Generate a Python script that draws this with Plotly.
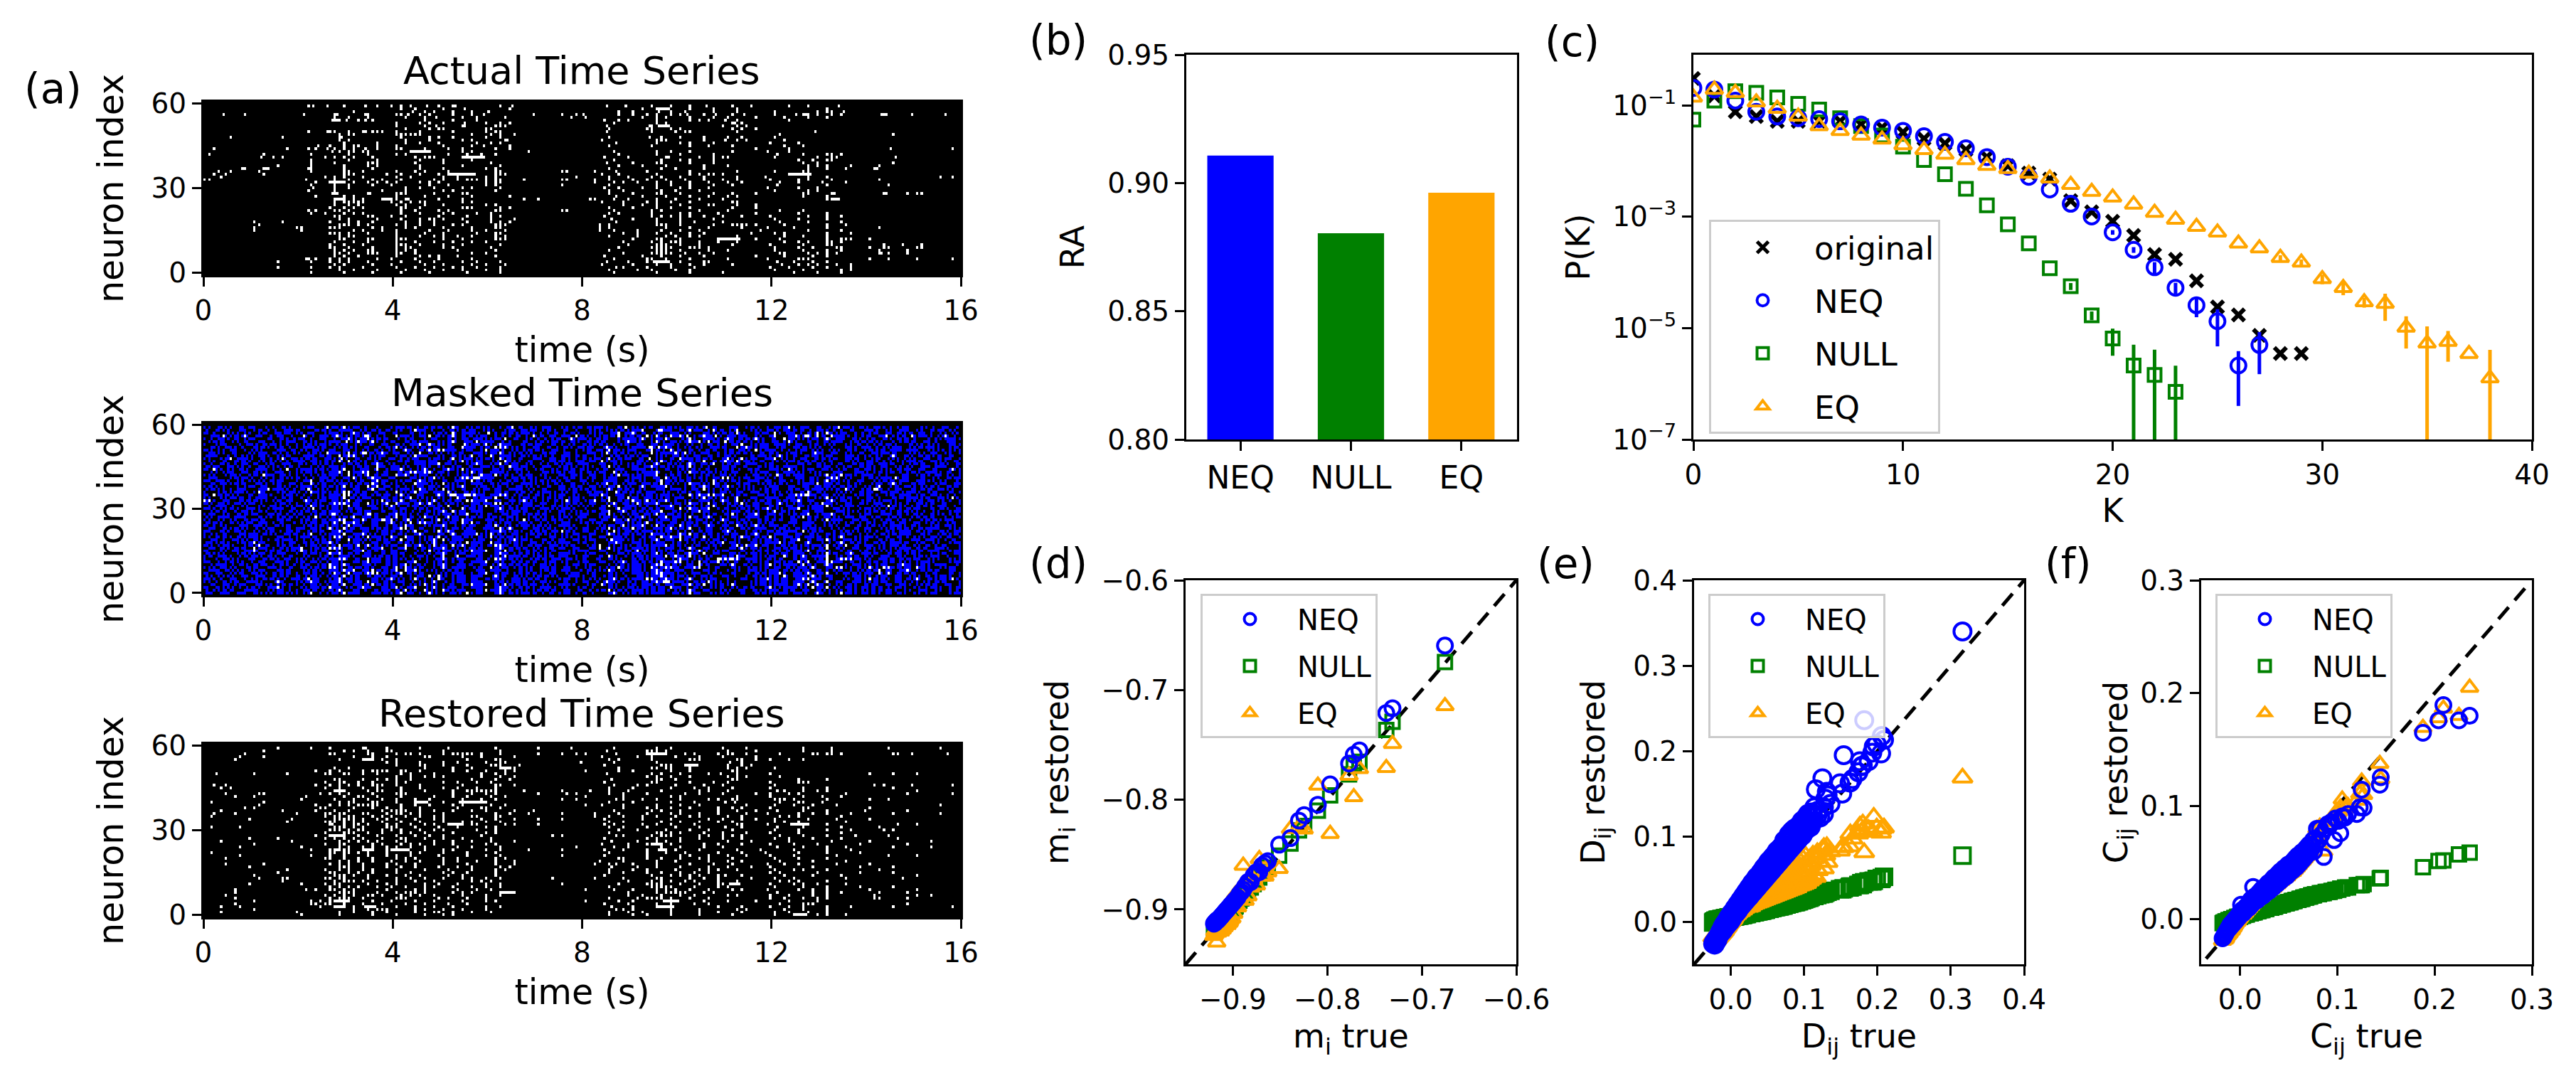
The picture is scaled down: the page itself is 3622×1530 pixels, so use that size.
import plotly.graph_objects as go

W, H = 3622, 1530
BLUE, GREEN, ORANGE = "#0000ff", "#008000", "#ffa500"
FONT = "DejaVu Sans"

# raster panels, 320 bins of 0.05 s, rows listed from neuron 59 down to neuron 0
N_BINS = 320
BIN_S = 0.05
actual_spikes = [
    [44,46,52,59,68,73,79,83,87,94,99,105,106,125,130,170,178,189,197,205,212,223,231,247,255,268],
    [83,89,101,110,129,185,191,192,193,194,195,196,205,215,225,263],
    [63,88,93,97,105,113,120,175,181,192,197,203,215,225,241,259,263,265,270],
    [8,17,42,55,56,68,69,81,83,86,91,95,105,113,118,139,151,157,160,175,181,187,191,197,201,204,211,216,223,228,241,250,253,254,255,259,265,269,286,287,288,299,313],
    [55,61,69,85,93,98,109,115,127,155,161,185,191,195,205,215,221,233,245,255,263],
    [54,55,56,57,60,65,68,71,93,105,115,169,175,179,191,205,209,213,220,225,247],
    [81,91,95,101,110,119,125,129,173,191,195,223,224,227],
    [81,93,98,109,110,123,125,127,170,188,189,192,193,194,195,196,219,225,229],
    [85,95,99,101,119,121,171,187,189,197,201,223,227,233],
    [44,52,53,55,61,67,68,71,73,75,81,91,105,119,123,125,170,189,199,203,205,225,258],
    [85,57,61,63,81,83,85,87,89,91,113,121,125,131,243,291],
    [11,33,57,58,83,95,99,105,119,125,171,188,193,201,211,221,227,241],
    [57,61,85,95,109,113,127,128,168,191,193,195,211,220,225,229,245],
    [59,73,85,91,99,115,121,125,174,191,201,205,215,239,251],
    [48,53,59,63,65,73,81,101,113,118,129,171,189,205,213,223,245,253],
    [4,35,44,47,52,55,59,63,68,73,81,83,93,103,109,123,129,233,247,290,316],
    [54,57,61,63,67,69,87,88,89,90,91,92,93,94,95,109,113,137,173,191,197,205,223,238,247],
    [2,25,45,61,69,81,85,103,111,117,123,175,191,201,215,242,253,263,265,269],
    [24,29,33,51,55,59,63,71,89,93,95,97,109,110,111,112,113,114,115,116,117,118,169,179,195,196,209,215,219,221,241,259,265,267,292],
    [45,61,73,91,101,113,173,193,201,205,215,251,257,263,265],
    [45,55,69,71,73,89,101,121,170,181,191,193,205,215,253,259,291],
    [31,45,59,69,73,91,109,125,175,185,195,211,221,255,259,263,273,285],
    [16,17,25,26,27,44,45,59,71,91,101,119,123,171,193,199,211,255,263,271,283,284],
    [6,11,23,45,59,61,67,81,89,93,103,123,125,151,153,165,174,187,205,225,241,253,255],
    [4,9,25,59,61,63,77,83,91,99,103,104,105,106,107,108,109,110,111,112,113,114,123,125,127,168,175,191,205,209,213,215,219,247,248,249,250,251,252,253,254,255,256],
    [7,51,55,59,67,81,87,101,107,119,123,157,171,179,189,193,201,211,225,237,255,263,311,316],
    [0,2,43,55,61,71,75,83,97,101,107,111,113,115,119,123,125,135,151,153,165,171,181,187,195,203,211,219,225,239,251,255,265,285],
    [47,53,54,55,56,57,58,59,63,69,73,77,81,91,95,99,119,123,125,165,173,177,183,191,197,205,213,221,227,243,251,261,271],
    [45,55,61,71,79,95,103,119,123,151,171,191,197,205,215,223,242,263,289],
    [46,55,61,85,91,97,109,113,125,169,175,185,191,201,205,213,238,251,259],
    [44,55,75,85,101,105,123,171,177,193,199,209,241,255,259],
    [54,55,56,69,70,81,83,85,97,109,111,171,181,191,193,201,215,223,233,253,255,265,266,287,288,297,301,303],
    [47,59,63,81,93,103,113,129,174,185,195,205,213,221,225,253,263],
    [55,56,57,58,59,63,67,75,76,77,78,79,81,85,86,99,109,135,141,163,165,173,179,191,199,209,219,263,265,266,267,268],
    [55,59,61,63,65,67,79,83,87,91,93,109,113,168,177,187,191,197,205,223,225],
    [55,61,65,81,85,93,101,119,123,177,185,191,201,213,215,225,233],
    [53,59,63,67,83,85,91,109,111,113,125,129,171,181,191,197,205,223,233],
    [44,47,55,57,61,83,89,99,103,123,125,151,153,173,189,193,209,221,243,253],
    [45,51,59,63,67,83,91,101,105,115,121,171,175,189,201,205,217,233,251,263],
    [55,57,69,71,79,85,99,111,121,125,169,189,193,197,201,205,211,219,227,239,255,263,269],
    [57,61,73,83,91,95,97,101,109,121,131,172,181,191,201,215,241,251,263],
    [21,33,53,61,65,71,85,91,97,111,121,125,129,174,191,201,207,219,243,255,269],
    [23,57,59,61,65,69,81,85,91,97,105,109,123,125,127,167,171,191,193,195,201,215,223,225,227,229,233,245,263,271],
    [21,39,41,53,55,57,71,75,85,89,101,113,123,125,167,171,195,205,213,227,238,249,263,285],
    [21,41,63,67,75,81,95,103,113,119,127,167,173,183,193,201,209,235,255,269],
    [53,55,57,61,69,81,93,101,115,123,125,177,183,191,197,205,211,231,241,245,263,273],
    [57,61,63,81,91,97,101,107,113,123,127,171,183,195,199,205,209,225,245,253,263],
    [57,59,69,71,81,83,85,101,109,123,125,127,181,191,193,201,217,218,219,220,221,222,223,224,225,226,233,243,263,269,271,273,281],
    [55,63,69,81,89,97,105,113,119,177,189,193,197,199,201,209,217,225,245,251,255,263,265,269],
    [53,59,67,81,83,85,91,101,109,125,179,191,193,195,201,209,223,239,253,263,265,287,295,303],
    [53,55,61,71,81,85,87,101,105,121,175,189,191,193,195,197,205,207,209,213,241,251,257,267,269,281,287,289,301,303],
    [55,59,63,69,71,81,85,89,107,123,171,191,193,195,201,213,221,241,253,263,269,285,297],
    [55,57,61,69,71,73,81,83,89,113,119,177,189,191,193,195,197,203,209,215,243,245,255,259,263,267,285,286,289,297],
    [55,59,65,81,91,95,99,107,123,169,185,193,201,211,233,245,257,263],
    [43,44,47,53,57,61,73,79,89,99,113,173,187,189,195,205,221,238,251,253,255,281,289,301,316],
    [31,45,53,57,61,69,83,91,97,109,115,125,170,179,187,190,191,192,193,194,195,196,201,211,213,242,249,257,263],
    [55,59,71,79,93,101,113,119,127,168,181,191,197,205,211,223,244,251,255,259,267,273],
    [31,45,53,57,67,81,89,97,105,109,115,125,174,177,187,197,207,239,247,257,263,273],
    [57,63,73,85,93,101,109,119,125,171,183,189,199,205,241,253,269,273],
    [45,59,71,83,95,111,125,173,191,205,219,249,259,269],
]

restored_spikes = [
    [31,45,53,67,68,77,91,103,123,141,155,173,191,197,219,229,253,265,289,311],
    [25,59,63,69,77,79,101,125,170,187,189,191,195,221,233,253,265],
    [17,53,55,69,71,81,85,87,91,101,105,107,109,111,113,117,125,141,151,157,161,174,187,188,189,190,191,192,193,194,195,203,207,217,221,223,229,243,257,259,263,265,269,291,293,299,314],
    [15,25,63,71,77,93,95,109,117,131,168,183,189,199,209,219,233],
    [13,57,67,68,69,70,71,75,81,111,123,125,171,175,189,205,207,209,225,227,233,239,247,253],
    [77,81,91,101,107,119,125,127,159,173,191,222,227],
    [81,91,93,101,111,121,123,125,133,169,193,195,197,203,204,205,206,207,208,221,227,231],
    [55,61,93,105,113,125,126,127,128,129,131,175,189,191,195,197,205,221,225,229,241],
    [47,53,57,67,71,73,75,77,83,85,91,105,111,119,127,131,161,175,181,197,205,223,225],
    [5,21,35,51,53,59,61,67,73,83,87,97,117,123,127,170,189,193,201,213,218,225,239,281,291,301],
    [81,87,93,97,101,117,125,131,187,191,197,205,221,225,229,243],
    [55,57,67,73,77,81,87,113,123,129,172,191,193,199,223,225,251,263],
    [51,57,59,65,71,81,85,101,107,115,121,169,189,191,205,215,221,239,251,253,255],
    [4,9,47,53,57,61,65,71,73,75,81,91,109,123,125,131,173,183,187,199,211,219,241,283,287,299,316],
    [7,11,51,57,67,73,83,91,101,107,115,123,171,181,197,207,213,223,239,253,263,291],
    [55,56,57,58,59,69,73,75,83,93,105,111,113,115,117,119,121,123,135,151,163,171,179,193,209,213,221,242,245,253,259,263,301],
    [9,23,25,49,53,57,61,71,81,83,85,105,113,119,123,141,153,157,171,177,187,203,209,219,233,239,247,251,271,297,316],
    [13,21,43,59,65,67,73,83,97,105,111,121,127,161,177,197,201,225,239,253,261,269],
    [41,55,63,69,75,81,89,95,109,117,123,151,157,174,177,185,191,201,213,217,223,225,241,243,245,249,263,281,289],
    [3,25,57,61,63,71,73,81,89,90,91,92,93,94,101,108,109,110,111,112,113,114,115,116,117,118,119,171,181,197,207,220,224,243,251,253,261],
    [23,47,53,57,61,65,67,69,71,73,83,89,95,105,109,121,127,161,168,177,191,201,209,229,241,249,257,267,311],
    [17,21,49,51,63,71,77,83,91,107,117,119,125,177,187,191,197,205,217,223,227,239,253,255,281],
    [7,33,47,55,61,75,79,81,83,85,91,97,105,113,119,131,139,173,189,193,201,217,225,233,242,253,263,279,297],
    [4,13,39,51,53,57,59,67,69,77,81,83,87,91,101,123,129,137,151,165,175,187,197,201,209,217,229,238,251,257,263,273,291,311],
    [3,51,55,57,61,63,71,75,79,85,91,97,101,113,115,123,125,165,171,177,185,191,199,205,209,221,227,243,247,251,269],
    [19,37,55,57,59,61,63,67,73,77,81,89,97,101,117,123,131,141,151,169,185,197,213,219,227,233,241,255,267,281],
    [35,51,53,55,59,63,67,75,83,91,101,109,113,119,125,171,177,193,201,209,217,223,241,245,251,271],
    [53,54,59,63,65,69,77,81,87,93,97,103,104,105,106,107,108,109,113,115,127,131,141,169,173,185,191,197,207,225,227,238,248,249,250,251,252,253,254,255,263,293,301],
    [3,15,55,57,59,63,67,77,79,81,89,99,107,119,123,171,177,187,199,209,220,227,242,253,269,285],
    [53,55,57,61,65,67,75,79,83,91,97,101,115,123,175,183,195,205,213,223,241,251,263,273,287,291],
    [51,59,61,63,69,75,83,87,93,105,119,123,171,191,193,197,201,211,219,229,239,251,269],
    [47,53,54,55,56,57,58,59,65,73,81,89,95,101,117,147,151,174,177,189,193,195,197,209,213,219,223,227,243,253,263,275,289],
    [19,31,51,55,59,63,67,75,83,85,93,101,109,121,169,187,191,201,209,219,227,241,247,257,269,293],
    [7,37,57,61,65,69,73,81,85,97,105,113,121,131,172,183,191,195,201,221,231,247,265,281,307],
    [21,51,57,59,71,75,83,87,91,97,105,119,123,168,179,187,189,190,191,192,193,197,211,217,227,239,249,259,277,297],
    [15,41,57,61,67,71,77,81,87,93,107,113,125,157,173,179,193,201,211,219,242,253,263,271,291,307],
    [45,53,55,56,57,59,61,67,68,69,70,71,77,79,80,81,82,83,84,85,86,93,101,105,119,125,137,151,169,177,187,192,193,194,195,199,209,225,235,249,263,273],
    [3,53,55,59,61,65,69,77,87,91,101,111,123,171,187,195,203,217,227,237,251,263,277],
    [15,45,53,59,69,77,81,87,99,111,119,125,151,169,187,201,205,213,221,229,239,249,267,289,301],
    [9,51,53,59,65,71,81,85,89,101,107,123,127,175,177,187,193,201,209,213,223,241,251,263],
    [57,61,65,71,79,85,91,101,107,115,123,131,167,177,191,199,213,221,227,243,257,271],
    [9,25,53,57,61,67,77,81,89,101,111,123,131,165,171,174,181,191,205,215,223,238,245,251,267,281],
    [19,57,59,61,67,77,83,89,99,107,113,125,129,172,183,191,201,213,221,231,239,257,277,291],
    [35,51,57,61,67,71,81,93,103,113,123,127,171,181,187,199,209,213,217,225,241,249,253,263,285],
    [31,53,55,61,65,71,81,87,101,105,111,123,171,177,187,193,201,207,213,239,243,259,277,291],
    [21,55,57,59,63,69,77,85,91,103,109,123,169,189,197,201,205,209,217,220,227,245,257,269,301],
    [23,33,35,51,53,57,59,69,81,87,93,101,109,113,119,125,147,165,177,191,193,205,211,217,231,241,249,271,295],
    [33,55,59,61,63,67,73,81,89,97,113,117,121,179,189,193,197,203,207,217,225,243,247,251,263],
    [19,41,51,55,57,69,77,81,93,99,107,119,125,151,175,187,189,191,193,201,209,217,219,222,223,224,225,226,239,249,253,259,271],
    [53,57,61,65,73,79,85,93,97,105,113,119,125,171,189,191,193,195,197,207,217,221,241,253,263,277,291],
    [13,43,47,53,55,59,63,77,89,93,107,115,121,161,173,181,191,195,199,205,213,223,227,238,251,257,263,281,301],
    [13,57,59,61,63,73,81,85,87,89,93,105,109,113,125,126,127,128,129,130,131,179,191,195,197,199,201,203,211,215,242,257,263,269,285,297],
    [9,51,55,59,63,69,71,75,83,87,91,97,109,119,125,179,185,193,201,207,221,225,239,247,257,263,283,301,307],
    [13,53,57,59,61,67,81,83,85,99,103,111,119,171,183,187,189,191,193,197,205,213,239,245,253,259,263,283,285,297],
    [21,45,49,53,55,56,57,58,59,60,61,71,79,89,97,109,119,123,161,175,181,194,195,196,197,198,199,200,211,221,233,247,259],
    [13,45,47,51,53,59,67,75,85,93,103,111,169,179,191,197,207,213,243,253,255,257,297],
    [7,15,49,55,56,57,58,59,63,68,69,70,71,72,81,89,97,105,119,125,172,181,191,192,193,194,195,196,197,198,217,227,239,247,253,263,273,291,316],
    [21,63,69,73,75,77,89,93,101,109,119,174,177,181,197,209,225,229,245,253,263],
    [7,39,57,63,71,77,89,97,99,105,113,121,171,179,185,197,209,217,227,241,247,255,263],
    [41,57,71,81,93,101,105,171,181,187,197,209,223,241,249,250,251,252,253,254,259,263,271],
]

# hidden cells of the masked panel, one hex digit for four bins, neuron 59 first
mask_hex = [
    "a3519c24682e13a5c8417b26d9315a84c629e14b37a1852c6d4e9183c5a2764f18b3a69d25c148e2",
    "46a1c5923d81b47e29a6513c84d6e2a173b968c4152ad7813c69e4b28153a76c9d2461e8a3c51b94",
    "c82a5163b94e17a2d638c1945a27e8136bd24c9a158e3a62c7941d5b286e13c9a4d71258e6b3914a",
    "1e56a389c4127b6ad2481e9c35a6d7124c8b39e1a56c2d8493a16e27bc5181d4a63e92c7158bd2a4",
    "93a65c18d2e4713ab96c2584e1a73d5c18a4962bd3617ea5c8291f4b36a8c1d5729e34b1a6c8257d",
    "2d8a61c49e3517c2ba4986de15a3c7e2418b5d9a36c12e84a75b91c36d28e4a1937c5b6a12d8e43c",
    "85c13a6e912d74b8a31c69e2d5817a4bc36e1928d5a4b1c73e8a2649c15e7d38b2a14c96e8352a1d",
    "1a7486d2c93eb15a8c2694ad71c3e582a91c64d3b85a17e26c94a3d81b5e2c76a841d3c95e2b7a16",
    "d29c4a81e653a71c94d28b1a63e5c47a296d1c84b3a75e19a2c64d8b3a17c92e54a8d16b3e7c2a95",
    "3a8c15e6928b47d1a36ce281a94c3d7256a1b8e43c96d2817ea53c4b6d19a2e85c71463bd82a9c51",
    "7c24a9d1583e6c1a92b85d3e146a8c27d35a91e6c48b2d7153a9c64e81bd2a6375c1e94a28d36b18",
    "a163e8c9275b1d48c6a392e1748bd5a2c61e39a4d725b8c1463eda1925c78a4e36b1d92c54a8e371",
    "28c6d14a93e75b21a8c4367de1a95c28d4613ba79c2e81d534a6c1b72e98a5d364c1a8e9257b1d46",
    "91a4e62c78d35a16c9b2847de3a16c59b8a24d73e1c695a28d4b3a16e7c5821d9a4c36e7b12d85a3",
    "6e3a91d52c84a7b16c39ea2d1458c7a63b91e2d4a8c5173b6ae9241d8c35a7e41b92c6d38a51e7c2",
    "c529a3e4817d6ba13c85e92a46d17c3a5e8b14d9a263c7e518ab4c9d2361e8a5c74b19d2a6e38c15",
    "14b8e6a3c95d27a1e84c36ba9d152c7e8a41d6b935c2a17e84d3b6a9c15e27d4a83c1e96b25a7d31",
    "a85d163ce924b7a168dc3a5e29174bc5a6e2839d1c4a75be16c92d3a84e51b7c2a69d3e481c5a729",
    "3c16e8a4d5927b1ca6e381d5942ac7e13b68a4d92c5e17a38b4d69c12e7a583cd1a9426be5c18a37",
    "e7a2954dc1386ea4b19c572d863e1ac4d92b5a61c87e34a19d6c28b5a3e71c94d26a8e15b3c7a942",
    "19d6c3a58e42b17a6cd9483ea1527c6ba3e94d18a2c65e7b1a93d4c86e2b5a17c3d8942e6a1b85c7",
    "b4825ce1a97d36a2c18e64b9d35a172c8ea4639b1d5c28a7e4136cd92a85e1c73ba6d1482ce95a36",
    "5a93c1e7d264a8b1c6395e8da1462b9c7e5183ad6c29b4a1e7d3852c4a96e1b37d58a2c64e19b3a8",
    "82d7a4c16e93b5a2d8c4159e7ca36a1d8b25e94c37a16d9e28b4c53a71e6d28c9a1546e3bd7a2c19",
    "c36a19e85d24a7c1b96e4a382d1c5e7a964d2b8a1e63c95d7a42b8e16c3a59d4e72a16c8b3e59d24",
    "a15d93e26c48b7a35e1cd62a948e37c1a5d96b2e84a1c73d59e2a6b481c7e3d92a56c8e41b7d63a2",
    "48e1b6a59c2d73a8e146c9d2a5b83e1c76a94d2e58c1b3a6e9147d2c8a5b36e9c1a742d5e86b3a91",
    "d3a75c82e91b46adc1583e6a92d47bc1a5e3896d1c2a74be85d3a196c4e72a58b3d1c69e2a4758c1",
    "27c8a14e95d36ba1c794a2e5d8136c7a49ed1b52a8c63e917a4d2c85b6e1a39d7c45e82b1a96d3c4",
    "e95a3d17c6284ba6e1d39c5a7482ec1a6b93d5e841c27a6d9e13b84c5a6d29e17c3a85d4b26e19a3",
    "16c4e9a28d5b37ca6e18d4935a2e7c16bd84a3952ce1a6d7834b9c15e6a28d473c1ea95b26d48a17",
    "b8a36e1d92c574a1e8c39d2657ae14c3b96d82a5e1c4973a6ed2158c4ba3d96e17a285c3e64d1a92",
    "53e7c1a96d284b5a1ec68d93a2716cb4e85a92d3c1764ba8e3d19a25c7e648d1b3a9e72c5a16d84b",
    "a2946ec1d85b37a1c9e64d28a573c1e6a84d9b251ce3a68d7b14e92c5a36d8e1a47c3b92e5a16d78",
    "6d1ab9e4c2573a8ed1c6942ba6e318d5c7a249e16b83d5a1c72e9a4b6d3581e7c2a964d1b38e5a2c",
    "c941e7a3582d6ba9e1c4d3857a26e1c94bd6a3e8215c97a46e2d8b1c35a9e647a2d18cb53e9a1674",
    "38d6a25c19e74a8b3d6ce1984a75c3e2a19d68b4e2c571a3d9684e2b1a7c5d36e84a19c2b6d37e15",
    "e1a7452c9d8b63ae1c5d92864ac3e17b5a2d9c68e4a13b7d5c926e1a84d3b7e16c25a948d3e6b1a7",
    "94c1de6a3b2857c1ea9d34681ca7e52d38b6a94e1c2d75a3e8b1964dc5a27e38d1a6c4935be1a2d6",
    "a6d35e81c97b24a6d1e8c395a27b4d16ea8c3952d1c7a46e3b9d8251ae6c47b3d92a15e8c64a9d31",
    "1c8ea6937d25b4c1ea6d8395a17c2e4d6ba1938e5c27d4a69e1b35c8a2d764e19ca3d586b21e7a4c",
    "75a2d9c14e36ba85d1ce3692a4e87c1d5a396be2c41d87a5e2c94b63a1d7e5c2849a6d1b3ec58a17",
    "d2e85a316c974b1e8ad5c3692e1a74cb9a6e3d582c14a9b7e6d2c5a1938e4d6b7a2c19e53d8a64c1",
    "39a6c1e4d785b2a6c9e1384d7a52ec1a6d94b38e1c25a7d69e4b1c83a5d276e94c1a38d52be6c7a1",
    "c14e7a2d96b538a1e6d9c42857ab3e1c64da982be1c53a76d4e2a95c18b6d37a1e84c592a6db3e17",
    "6a82d5c9e1374ba6ce19d8453a2e7c1b96d4a3e85c21d7a64e9b81c3a5d26e7c94b1a3d86e5a12c7",
    "b3d16e9a4c285a7d1eb6c93a4821ec5a7d96b3c4e18a25d7c6e94a1b38d5c26a7e14d9a3c68b5e21",
    "84ea1c6d3952b7a8c1e6d4923a5e1c8b6a2d9e74c31a86d5e2b96c14a7d3586e2c1a9d47b36e2a15",
    "e25a89c3d1674ba1d9e6c3825a4c7e1a36d8b942e1c5a76d3e8a1b94c2d6758a1e3c64d9b2a5e817",
    "17c9a6e4d258b3ac1e86d9345a1ec72b6d93a84e5c12d7a69b4e2c3a8d1657e9a2c13d4b86e5a7c2",
    "a9d4361e8c75b2a6ed1c93584a7e2c1b96a3d8e4512cd7a36b9e84c1a2d6735ea1c94d28b6e3a15c",
    "3e6a95c1d82b47ae1c6d8392a5b41e7c86a2d9e1354cb7a6d9e21c84a3d5e6b7192c4ad8e3a5b61c",
    "c7158ea6d93b24c9ea1d63582a7c4e1b96da385e2c1a47d6be93c5a1826de47a9c13b5e2a6d84c19",
    "52a8e3c6d1974ba2c6e9d1384a5e7c2b1a96d43e8c5a21d7b6e93a1c84d5627ea9c13d4b8e2a65d1",
    "e91c4a6d27b385aec1d6a9248c5e71ba3d6c82e4951ad7c36e9a2b841c5d6e3a78c29d1b4e6a35d2",
    "a4d63e82c15b97a6e1cd3894a25e7c16bd93a8c4e25d1a76c3e9b2a4815d6e7ca21c3d5b8e94a6c1",
    "18e5c3a96d274ba1ec6d8952a4c73e1a6db943e82c5a167d9e3ac2b4815d7e6a2c94d1b8e3a56c71",
    "c6a92d1e4857b3ca6e1d9382a5e47c1ba6d3e942c81a5d76e3c9a2b14d8657ea1c29d3b64e8a5d13",
    "4ad87e15c93b26a1c8de6942a35e1c7b4a96d8e312c5a7d6e94b1c2a38d5e6c71a94d2b6e8a3c512",
    "71e3c6a9d5284ba7c1ed6392a4e85c1a6bd932e4c81a56d7e3a9c2b4186d5e7a2c91d3b4e68a5c17",
]

# panel (b)
ra_labels = ["NEQ", "NULL", "EQ"]
ra_values = [0.9107, 0.8804, 0.8962]

# panel (c)
orig_k = list(range(30))
orig_p = [0.305,0.148,0.0769,0.0632,0.0519,0.0519,0.0519,0.0519,0.0455,0.0399,0.0328,0.0252,0.0207,0.0159,0.0118,0.00826,
          0.00611,0.00476,0.00195,0.00123,0.00083,0.000461,0.00021,0.000172,7.06e-5,2.41e-5,1.73e-5,7.4e-6,3.5e-6,3.5e-6]
neq_k = list(range(28))
neq_p = [0.206,0.193,0.122,0.0769,0.0632,0.0591,0.0569,0.0519,0.0455,0.0399,0.035,0.028,0.0221,0.017,0.0118,0.00794,
         0.00522,0.00309,0.00171,0.00101,0.000526,0.000255,0.000124,5.3e-5,2.57e-5,1.33e-5,2.13e-6,4.99e-6]
neq_err = [0,0,0,0,0,0,0,0,0,0,0,0,0,0,0,0,0,0,0,0,5e-5,3e-5,2.9e-5,1.2e-5,1e-5,8.6e-6,1.73e-6,3.5e-6]
null_k = list(range(24))
null_p = [0.0555,0.122,0.18,0.169,0.139,0.107,0.0843,0.0591,0.0426,0.0288,0.0181,0.0105,0.00581,0.00317,0.0016,0.00073,
          0.000332,0.000119,5.65e-5,1.69e-5,6.49e-6,2.13e-6,1.44e-6,7.2e-7]
null_err = [0,0,0,0,0,0,0,0,0,0,0,0,0,0,0,0,0,0,8e-6,3e-6,3.3e-6,2.9e-6,2.66e-6,1.4e-6]
eq_k = list(range(39))
eq_p = [0.139,0.193,0.169,0.114,0.0877,0.0632,0.0426,0.035,0.0288,0.0245,0.0194,0.0159,0.0131,0.0105,0.00826,0.00724,
        0.006,0.0049,0.00377,0.00282,0.00223,0.00167,0.00119,0.00089,0.000665,0.000526,0.000332,0.000273,0.000184,0.000151,
        7.64e-5,5.3e-5,2.93e-5,2.75e-5,1.03e-5,5.32e-6,5.69e-6,3.46e-6,1.26e-6]
eq_err = [0]*28 + [2e-5,2e-5,1.5e-5,1.4e-5,6e-6,1.4e-5,6e-6,5.4e-6,3.2e-6,0,2.8e-6]

# panel (d), one value per neuron
d_true = [-0.6755,-0.731,-0.7376,-0.766,-0.772,-0.777,-0.797,-0.81,-0.8245,-0.83,-0.839,-0.851,-0.863,-0.866,-0.869,
          -0.872,-0.875,-0.878,-0.881,-0.884,-0.887,-0.889,-0.891,-0.893,-0.895,-0.897,-0.898,-0.899,-0.9,-0.901,
          -0.902,-0.903,-0.904,-0.905,-0.906,-0.907,-0.908,-0.909,-0.91,-0.911,-0.912,-0.913,-0.914,-0.915,-0.916,
          -0.917,-0.918,-0.9185,-0.919,-0.92]
d_neq = [-0.6595,-0.7166,-0.721,-0.755,-0.759,-0.767,-0.786,-0.8046,-0.814,-0.819,-0.835,-0.841,-0.856,-0.858,-0.86,
         -0.866,-0.866,-0.869,-0.875,-0.875,-0.879,-0.882,-0.884,-0.886,-0.889,-0.891,-0.892,-0.893,-0.894,-0.895,
         -0.896,-0.897,-0.898,-0.899,-0.9,-0.901,-0.902,-0.903,-0.904,-0.905,-0.906,-0.907,-0.908,-0.909,-0.91,
         -0.91,-0.911,-0.912,-0.912,-0.913]
d_null = [-0.6745,-0.729,-0.7365,-0.7655,-0.768,-0.777,-0.796,-0.81,-0.824,-0.828,-0.84,-0.851,-0.862,-0.864,-0.867,
          -0.871,-0.873,-0.877,-0.88,-0.883,-0.886,-0.889,-0.89,-0.892,-0.894,-0.897,-0.898,-0.899,-0.9,-0.9,
          -0.901,-0.903,-0.904,-0.905,-0.906,-0.907,-0.908,-0.909,-0.91,-0.911,-0.912,-0.913,-0.914,-0.915,-0.916,
          -0.917,-0.917,-0.918,-0.918,-0.919]
d_eq = [-0.7145,-0.749,-0.771,-0.772,-0.7976,-0.778,-0.831,-0.787,-0.827,-0.825,-0.8266,-0.863,-0.866,-0.87,-0.87,
        -0.854,-0.878,-0.873,-0.88,-0.888,-0.892,-0.86,-0.88,-0.89,-0.898,-0.886,-0.897,-0.904,-0.892,-0.908,
        -0.892,-0.91,-0.912,-0.896,-0.914,-0.898,-0.906,-0.916,-0.91,-0.918,-0.915,-0.92,-0.905,-0.918,-0.921,
        -0.93,-0.919,-0.922,-0.92,-0.924]

# panel (e), one value per neuron pair
e_true = [0.316,0.209,0.206,0.205,0.199,0.195,0.193,0.188,0.182,0.18,0.178,0.176,0.174,0.166,0.163,0.162,0.154,0.152,0.149,0.136,
          0.132,0.131,0.129,0.127,0.127,0.125,0.122,0.119,0.118,0.116,0.114,0.113,0.112,0.11,0.109,0.108,0.107,0.105,0.104,0.103,
          0.102,0.101,0.1,0.099,0.098,0.097,0.096,0.095,0.094,0.093,0.092,0.091,0.09,0.089,0.088,0.087,0.086,0.085,0.084,0.083,
          0.082,0.081,0.08,0.079,0.078,0.077,0.076,0.075,0.074,0.073,0.072,0.071,0.07,0.069,0.068,0.067,0.066,0.065,0.064,0.063,
          0.062,0.061,0.06,0.059,0.058,0.057,0.056,0.055,0.054,0.053,0.052,0.051,0.05,0.049,0.048,0.047,0.046,0.045,0.044,0.043,
          0.042,0.041,0.04,0.039,0.038,0.037,0.036,0.035,0.034,0.033,0.032,0.031,0.03,0.029,0.028,0.027,0.026,0.025,0.024,0.023,
          0.022,0.021,0.02,0.019,0.018,0.017,0.016,0.015,0.014,0.013,0.012,0.011,0.01,0.009,0.008,0.007,0.006,0.005,0.004,0.003,
          0.002,0.001,0.0,-0.001,-0.002,-0.003,-0.004,-0.005,-0.006,-0.007,-0.008,-0.009,-0.01,-0.011,-0.012,-0.013,-0.014,-0.015,-0.016,-0.017,
          -0.018,-0.019,-0.02,-0.021,-0.022,-0.023,-0.024]
e_neq = [0.34,0.213,0.2175,0.197,0.208,0.205,0.198,0.188,0.236,0.183,0.182,0.188,0.175,0.167,0.163,0.163,0.195,0.15,0.162,0.138,
         0.148,0.152,0.144,0.126,0.134,0.168,0.122,0.13,0.124,0.155,0.134,0.118,0.125,0.128,0.111,0.122,0.112,0.126,0.108,0.12,
         0.107,0.121,0.105,0.117,0.101,0.118,0.102,0.11,0.098,0.113,0.096,0.109,0.094,0.105,0.092,0.109,0.09,0.102,0.088,0.106,
         0.086,0.098,0.084,0.102,0.082,0.096,0.08,0.092,0.078,0.095,0.076,0.09,0.074,0.088,0.072,0.086,0.07,0.084,0.068,0.083,
         0.066,0.08,0.064,0.077,0.062,0.076,0.06,0.073,0.058,0.072,0.056,0.07,0.054,0.066,0.052,0.065,0.05,0.063,0.048,0.06,
         0.046,0.058,0.044,0.055,0.042,0.053,0.04,0.052,0.038,0.049,0.036,0.047,0.034,0.045,0.032,0.042,0.03,0.04,0.028,0.037,
         0.026,0.035,0.024,0.032,0.022,0.03,0.02,0.027,0.018,0.025,0.016,0.022,0.013,0.02,0.011,0.017,0.009,0.015,0.007,0.012,
         0.004,0.01,0.001,0.007,-0.001,0.005,-0.003,0.002,-0.005,-0.001,-0.007,-0.003,-0.01,-0.006,-0.012,-0.01,-0.014,-0.013,-0.016,-0.017,
         -0.021,-0.019,-0.024,-0.022,-0.027,-0.024,-0.026]
e_null = [0.0773,0.0525,0.051,0.05,0.05,0.048,0.047,0.047,0.046,0.044,0.045,0.043,0.043,0.041,0.041,0.04,0.039,0.038,0.038,0.036,
          0.035,0.035,0.034,0.034,0.033,0.033,0.032,0.033,0.031,0.032,0.03,0.031,0.03,0.03,0.029,0.029,0.028,0.028,0.028,0.027,
          0.027,0.027,0.026,0.026,0.026,0.025,0.025,0.025,0.025,0.024,0.024,0.024,0.024,0.023,0.023,0.023,0.023,0.023,0.022,0.022,
          0.022,0.022,0.021,0.021,0.021,0.021,0.02,0.02,0.02,0.02,0.019,0.019,0.019,0.019,0.019,0.018,0.018,0.018,0.018,0.018,
          0.017,0.017,0.017,0.017,0.017,0.016,0.016,0.016,0.016,0.015,0.015,0.015,0.015,0.015,0.014,0.014,0.014,0.014,0.014,0.013,
          0.013,0.013,0.013,0.013,0.012,0.012,0.012,0.012,0.012,0.011,0.011,0.011,0.011,0.011,0.01,0.01,0.01,0.01,0.01,0.01,
          0.009,0.009,0.009,0.009,0.009,0.008,0.008,0.008,0.008,0.008,0.007,0.007,0.007,0.007,0.007,0.007,0.006,0.006,0.006,0.006,
          0.006,0.005,0.005,0.005,0.005,0.005,0.004,0.004,0.004,0.004,0.004,0.003,0.003,0.003,0.003,0.003,0.002,0.002,0.002,0.002,
          0.002,0.001,0.001,0.001,0.0,0.0,-0.001]
e_eq = [0.1686,0.11,0.1087,0.104,0.11,0.1225,0.105,0.108,0.081,0.1146,0.105,0.112,0.103,0.097,0.103,0.088,0.087,0.087,0.083,0.082,
        0.0695,0.088,0.078,0.087,0.062,0.085,0.07,0.06,0.081,0.052,0.074,0.055,0.078,0.05,0.066,0.074,0.048,0.07,0.058,0.045,
        0.077,0.052,0.044,0.066,0.074,0.043,0.056,0.07,0.042,0.062,0.046,0.068,0.04,0.054,0.064,0.039,0.05,0.062,0.038,0.055,
        0.06,0.037,0.046,0.058,0.036,0.05,0.056,0.035,0.044,0.054,0.034,0.048,0.052,0.033,0.042,0.05,0.032,0.045,0.048,0.031,
        0.04,0.046,0.03,0.042,0.045,0.029,0.036,0.043,0.028,0.039,0.041,0.027,0.034,0.04,0.026,0.036,0.038,0.025,0.031,0.036,
        0.024,0.033,0.034,0.023,0.028,0.032,0.022,0.03,0.03,0.021,0.026,0.029,0.02,0.027,0.027,0.018,0.023,0.025,0.017,0.023,
        0.02,0.018,0.02,0.016,0.018,0.017,0.014,0.016,0.015,0.012,0.014,0.012,0.011,0.012,0.009,0.01,0.008,0.007,0.006,0.004,
        0.003,0.002,0.001,0.0,-0.001,-0.002,-0.003,-0.005,-0.006,-0.007,-0.008,-0.01,-0.011,-0.012,-0.013,-0.014,-0.015,-0.016,-0.017,-0.018,
        -0.019,-0.02,-0.021,-0.022,-0.023,-0.022,-0.018]

# panel (f), one value per neuron pair
f_true = [0.236,0.225,0.209,0.204,0.188,0.1446,0.1436,0.127,0.125,0.123,0.12,0.111,0.108,0.105,0.103,0.101,0.098,0.0966,0.094,0.092,
          0.09,0.088,0.086,0.084,0.082,0.081,0.079,0.078,0.077,0.076,0.075,0.074,0.073,0.072,0.071,0.07,0.069,0.068,0.067,0.066,
          0.065,0.064,0.063,0.062,0.061,0.06,0.059,0.058,0.057,0.056,0.055,0.054,0.053,0.052,0.051,0.05,0.049,0.048,0.047,0.046,
          0.045,0.044,0.043,0.042,0.041,0.04,0.039,0.038,0.037,0.036,0.035,0.034,0.033,0.032,0.031,0.03,0.029,0.028,0.027,0.026,
          0.025,0.024,0.023,0.022,0.021,0.02,0.019,0.018,0.017,0.016,0.015,0.0134,0.013,0.012,0.011,0.01,0.009,0.008,0.007,0.006,
          0.005,0.004,0.003,0.002,0.001,0.0,-0.001,-0.002,-0.003,-0.004,-0.005,-0.006,-0.007,-0.008,-0.009,-0.01,-0.011,-0.012,-0.013,-0.014,
          -0.015,-0.016,-0.017,-0.018]
f_neq = [0.18,0.176,0.1895,0.176,0.165,0.1256,0.119,0.0985,0.1146,0.099,0.093,0.093,0.09,0.091,0.076,0.087,0.089,0.07,0.086,0.083,
         0.084,0.08,0.055,0.075,0.08,0.07,0.08,0.067,0.071,0.06,0.07,0.064,0.066,0.06,0.066,0.058,0.064,0.056,0.062,0.054,
         0.06,0.052,0.059,0.05,0.057,0.048,0.056,0.046,0.054,0.045,0.052,0.043,0.05,0.042,0.049,0.04,0.048,0.038,0.046,0.037,
         0.045,0.036,0.043,0.034,0.042,0.033,0.04,0.031,0.038,0.03,0.037,0.028,0.035,0.027,0.033,0.025,0.032,0.024,0.03,0.023,
         0.028,0.021,0.027,0.02,0.025,0.019,0.023,0.017,0.021,0.016,0.02,0.0285,0.014,0.018,0.012,0.016,0.01,0.0128,0.009,0.011,
         0.007,0.009,0.005,0.008,0.0128,0.006,0.002,0.003,0.0,0.001,-0.002,-0.001,-0.004,-0.003,-0.006,-0.005,-0.008,-0.008,-0.01,-0.011,
         -0.013,-0.014,-0.016,-0.017]
f_null = [0.0588,0.0573,0.052,0.0514,0.046,0.0365,0.036,0.031,0.03,0.03,0.03,0.028,0.028,0.027,0.027,0.026,0.026,0.025,0.025,0.024,
          0.024,0.024,0.023,0.023,0.023,0.022,0.022,0.022,0.022,0.021,0.021,0.021,0.021,0.02,0.02,0.02,0.02,0.019,0.019,0.019,
          0.019,0.018,0.018,0.018,0.018,0.017,0.017,0.017,0.017,0.016,0.016,0.016,0.016,0.015,0.015,0.015,0.015,0.014,0.014,0.014,
          0.014,0.013,0.013,0.013,0.013,0.012,0.012,0.012,0.012,0.011,0.011,0.011,0.011,0.01,0.01,0.01,0.01,0.01,0.009,0.009,
          0.009,0.009,0.008,0.008,0.008,0.008,0.007,0.007,0.007,0.007,0.006,0.006,0.006,0.006,0.005,0.005,0.005,0.005,0.004,0.004,
          0.004,0.004,0.003,0.003,0.003,0.002,0.002,0.002,0.002,0.001,0.001,0.001,0.0,0.0,0.0,-0.001,-0.001,-0.001,-0.002,-0.002,
          -0.002,-0.003,-0.003,-0.0036]
f_eq = [0.205,0.18,0.1865,0.178,0.1695,0.124,0.1375,0.11,0.122,0.111,0.105,0.1,0.098,0.106,0.099,0.095,0.094,0.088,0.087,0.086,
        0.082,0.083,0.06,0.08,0.082,0.074,0.08,0.07,0.072,0.065,0.07,0.064,0.066,0.062,0.065,0.058,0.062,0.056,0.06,0.054,
        0.058,0.052,0.056,0.05,0.054,0.048,0.053,0.046,0.051,0.044,0.049,0.042,0.048,0.041,0.046,0.04,0.045,0.038,0.043,0.037,
        0.042,0.036,0.04,0.034,0.039,0.033,0.037,0.031,0.036,0.03,0.034,0.028,0.033,0.027,0.031,0.026,0.03,0.024,0.028,0.023,
        0.026,0.022,0.025,0.02,0.023,0.019,0.021,0.018,0.02,0.016,0.018,0.02,0.014,0.015,0.012,0.013,0.01,0.012,0.008,0.01,
        0.006,0.008,0.004,0.005,0.006,0.002,0.001,0.0,-0.002,-0.002,-0.004,-0.005,-0.007,-0.008,-0.01,-0.01,-0.012,-0.013,-0.014,-0.015,
        -0.017,-0.018,-0.018,-0.019]


def unpack_mask(rows):
    out = []
    for row in rows:
        bits = []
        for ch in row:
            bits += [int(b) for b in format(int(ch, 16), "04b")]
        out.append(bits[:N_BINS] + [0] * (N_BINS - len(bits)))
    return out


def spike_grid(rows):
    z = [[0] * N_BINS for _ in rows]
    for i, row in enumerate(rows):
        for b in row:
            z[i][b] = 2
    return z


def pad(z):
    # empty rows so the black image reaches the frame above and below the neurons
    blank = [0] * N_BINS
    return [blank, blank] + z + [blank]


actual_z = spike_grid(actual_spikes)
restored_z = spike_grid(restored_spikes)
mask = unpack_mask(mask_hex)
masked_z = [[1 if m else v for v, m in zip(vals, bits)] for vals, bits in zip(actual_z, mask)]
time_s = [(b + 0.5) * BIN_S for b in range(N_BINS)]
neurons = list(range(61, -2, -1))

fig = go.Figure()
layout = {}


def add_axes(n, box, xopts, yopts):
    x0, x1, y0, y1 = box
    base = dict(showline=True, mirror=True, linewidth=3, linecolor="black", ticks="outside", ticklen=13, tickwidth=3,
                tickcolor="black", showgrid=False, zeroline=False, automargin=False,
                tickfont=dict(size=39, color="black", family=FONT),
                title_font=dict(size=46, color="black", family=FONT))
    sfx = "" if n == 1 else str(n)
    layout["xaxis" + sfx] = dict(base, domain=[x0 / W, x1 / W], anchor="y" + sfx, **xopts)
    layout["yaxis" + sfx] = dict(base, domain=[1 - y1 / H, 1 - y0 / H], anchor="x" + sfx, **yopts)
    return "x" + sfx, "y" + sfx


def add_raster(n, y0, y1, z):
    xa, ya = add_axes(n, (286, 1351, y0, y1),
                      dict(range=[0, 16], tickvals=[0, 4, 8, 12, 16], title=dict(text="time (s)", standoff=17, font=dict(size=49))),
                      dict(range=[-0.8, 60.6], tickvals=[0, 30, 60], title=dict(text="neuron index", standoff=24, font=dict(size=49))))
    fig.add_trace(go.Heatmap(x=time_s, y=neurons, z=pad(z), zmin=0, zmax=2, showscale=False, zsmooth=False, hoverinfo="skip",
                             colorscale=[[0, "black"], [0.5, BLUE], [1, "white"]], xaxis=xa, yaxis=ya))


add_raster(1, 143, 387, actual_z)
add_raster(2, 595, 837, masked_z)
add_raster(3, 1046, 1290, restored_z)

# panel (b)
xa, ya = add_axes(4, (1668, 2132.5, 77, 618), dict(range=[-0.49, 2.5], tickfont=dict(size=44, color="black", family=FONT)),
                  dict(range=[0.8, 0.95], tickvals=[0.8, 0.85, 0.9, 0.95], tickformat=".2f", title=dict(text="RA", standoff=19)))
fig.add_trace(go.Bar(x=ra_labels, y=ra_values, width=0.6, marker=dict(color=[BLUE, GREEN, ORANGE], line_width=0),
                     showlegend=False, xaxis=xa, yaxis=ya))

# panel (c)
xa, ya = add_axes(5, (2381, 3560, 77, 618), dict(range=[0, 40], tickvals=[0, 10, 20, 30, 40], title=dict(text="K", standoff=14)),
                  dict(type="log", range=[-7, -0.09], tickvals=[1e-7, 1e-5, 1e-3, 1e-1],
                       ticktext=["10<sup>\u22127</sup>", "10<sup>\u22125</sup>", "10<sup>\u22123</sup>", "10<sup>\u22121</sup>"],
                       title=dict(text="P(K)", standoff=18)))


def err(vals, color):
    return dict(type="data", array=vals, visible=True, thickness=5, width=0, color=color)


def open_marker(symbol, color, size):
    return dict(symbol=symbol, size=size, color=color, line=dict(color=color, width=4))


fig.add_trace(go.Scatter(x=orig_k, y=orig_p, mode="markers", name="original", xaxis=xa, yaxis=ya, legend="legend", legendrank=1,
                         marker=dict(symbol="x-thin", size=17, line=dict(color="black", width=6)), legendgroup="c1"))
fig.add_trace(go.Scatter(x=null_k, y=null_p, mode="markers", name="NULL", xaxis=xa, yaxis=ya, legend="legend", legendrank=3,
                         error_y=err(null_err, GREEN), marker=open_marker("square-open", GREEN, 18), legendgroup="c3"))
fig.add_trace(go.Scatter(x=neq_k, y=neq_p, mode="markers", name="NEQ", xaxis=xa, yaxis=ya, legend="legend", legendrank=2,
                         error_y=err(neq_err, BLUE), marker=open_marker("circle-open", BLUE, 21), legendgroup="c2"))
fig.add_trace(go.Scatter(x=eq_k, y=eq_p, mode="markers", name="EQ", xaxis=xa, yaxis=ya, legend="legend", legendrank=4,
                         error_y=err(eq_err, ORANGE), marker=open_marker("triangle-up-open", ORANGE, 21), legendgroup="c4"))


def add_scatter_panel(n, box, rng, ticks, fmt, label, xs, neq, null, eq, size, legend_name, line_ends, y_standoff):
    xa, ya = add_axes(n, box,
                      dict(range=rng[0], tickvals=ticks[0], tickformat=fmt,
                           title=dict(text=label + " true", standoff=15)),
                      dict(range=rng[1], tickvals=ticks[1], tickformat=fmt,
                           title=dict(text=label + " restored", standoff=y_standoff)))
    fig.add_trace(go.Scatter(x=line_ends, y=line_ends, mode="lines", line=dict(color="black", width=5, dash="22px,13px"),
                             showlegend=False, xaxis=xa, yaxis=ya))
    for name, vals, sym, color, rank, sz in [("NULL", null, "square-open", GREEN, 2, size - 2),
                                             ("EQ", eq, "triangle-up-open", ORANGE, 3, size),
                                             ("NEQ", neq, "circle-open", BLUE, 1, size)]:
        fig.add_trace(go.Scatter(x=xs, y=vals, mode="markers", name=name, legend=legend_name, legendrank=rank, legendgroup=legend_name + name,
                                 marker=open_marker(sym, color, sz), xaxis=xa, yaxis=ya))


add_scatter_panel(6, (1667, 2132, 816, 1356), ([-0.95, -0.6], [-0.95, -0.6]),
                  ([-0.9, -0.8, -0.7, -0.6], [-0.9, -0.8, -0.7, -0.6]), ".1f", "m<sub>i</sub>",
                  d_true, d_neq, d_null, d_eq, 21, "legend2", [-0.95, -0.6], 32)
add_scatter_panel(7, (2382, 2846, 816, 1356), ([-0.05, 0.4], [-0.05, 0.4]),
                  ([0, 0.1, 0.2, 0.3, 0.4], [0, 0.1, 0.2, 0.3, 0.4]), ".1f", "D<sub>ij</sub>",
                  e_true, e_neq, e_null, e_eq, 24, "legend3", [-0.05, 0.4], 26)
add_scatter_panel(8, (3095, 3560, 816, 1356), ([-0.04, 0.3], [-0.04, 0.3]),
                  ([0, 0.1, 0.2, 0.3], [0, 0.1, 0.2, 0.3]), ".1f", "C<sub>ij</sub>",
                  f_true, f_neq, f_null, f_eq, 21, "legend4", [-0.035, 0.295], 4)


def legend_at(x, y, size, item, gap):
    return dict(x=x / W, y=1 - y / H, xanchor="left", yanchor="top", bgcolor="rgba(255,255,255,0.8)", bordercolor="#cccccc",
                borderwidth=3, font=dict(size=size, color="black", family=FONT), itemwidth=item, tracegroupgap=gap,
                itemsizing="trace")


layout["legend"] = legend_at(2403, 309, 45, 135, 13)
layout["legend2"] = legend_at(1688, 835, 40, 123, 11)
layout["legend3"] = legend_at(2402, 835, 40, 123, 11)
layout["legend4"] = legend_at(3115, 835, 40, 123, 11)

annotations = []
for text, x, y in [("Actual Time Series", 818, 100), ("Masked Time Series", 818, 552), ("Restored Time Series", 818, 1003)]:
    annotations.append(dict(text=text, x=x / W, y=1 - y / H, xref="paper", yref="paper", showarrow=False,
                            xanchor="center", yanchor="middle", font=dict(size=54, family=FONT, color="black")))
for text, x, y in [("(a)", 74, 125), ("(b)", 1488, 57), ("(c)", 2210, 59), ("(d)", 1488, 793), ("(e)", 2201, 793), ("(f)", 2908, 793)]:
    annotations.append(dict(text=text, x=x / W, y=1 - y / H, xref="paper", yref="paper", showarrow=False,
                            xanchor="center", yanchor="middle", font=dict(size=58, family=FONT, color="black")))

fig.update_layout(width=W, height=H, margin=dict(l=0, r=0, t=0, b=0), paper_bgcolor="white", plot_bgcolor="white",
                  font=dict(family=FONT, color="black"), annotations=annotations, bargap=0.4, **layout)
fig.write_html("out.html", config=dict(displayModeBar=False), post_script="document.body.style.margin='0';")
